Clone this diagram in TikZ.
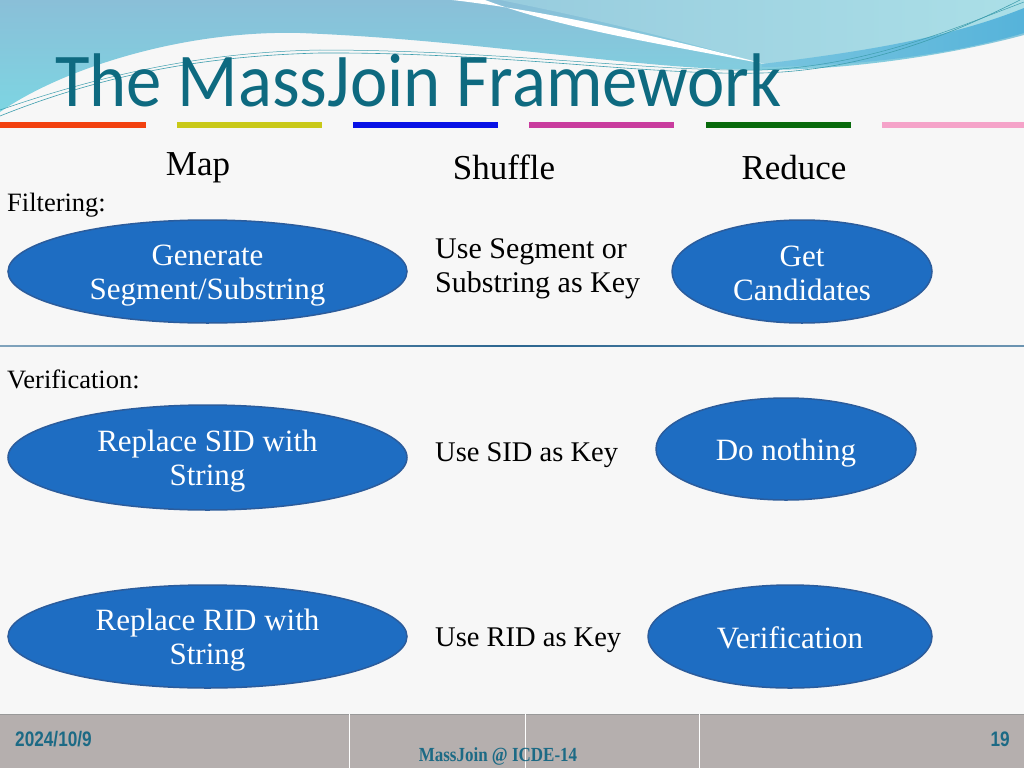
\documentclass[tikz,border=0pt]{standalone}
\usepackage{fontspec}
\setmainfont{Liberation Serif}
\newfontfamily\titlefont[FakeStretch=0.93]{Carlito}
\newfontfamily\footsans[FakeStretch=0.82]{Liberation Sans}
\newfontfamily\footserif[FakeStretch=0.85]{Liberation Serif}
\usetikzlibrary{shapes.geometric}
\definecolor{bg}{HTML}{F7F7F7}
\definecolor{titlecol}{HTML}{0E6A80}
\definecolor{ellfill}{HTML}{1E6DC2}
\definecolor{elldraw}{HTML}{2B5C9C}
\definecolor{footcol}{HTML}{B5AFAE}
\definecolor{foottext}{HTML}{1C6A85}
\definecolor{bannerA}{HTML}{8ABFD8}
\definecolor{bannerB}{HTML}{7DD5E2}
\definecolor{bannerC}{HTML}{ABDFE7}
\definecolor{swoosh}{HTML}{56B3DA}
\definecolor{thinline}{HTML}{3E9EAE}
\definecolor{sepline}{HTML}{2C6690}
\definecolor{barA}{HTML}{F2410F}
\definecolor{barB}{HTML}{C9C918}
\definecolor{barC}{HTML}{0812E6}
\definecolor{barD}{HTML}{C93C9E}
\definecolor{barE}{HTML}{086A0C}
\definecolor{barF}{HTML}{F5A3C9}
\tikzset{
  ell/.style={ellipse, draw=elldraw, line width=1.5pt, fill=ellfill, inner sep=0pt},
  elltext/.style={text=white, inner sep=0pt, align=center, font=\fontsize{31}{34}\selectfont},
  head/.style={anchor=base, inner sep=0pt, font=\fontsize{35}{40}\selectfont},
  label/.style={anchor=base west, inner sep=0pt, font=\fontsize{26.5}{30}\selectfont},
  shuf/.style={anchor=west, inner sep=0pt, align=left, font=\fontsize{28.5}{34}\selectfont},
  colbar/.style={minimum height=6pt, inner sep=0pt, anchor=north west},
}
\begin{document}
\begin{tikzpicture}[x=1pt,y=-1pt]
\useasboundingbox (0,0) rectangle (1024,768);
\fill[bg] (0,0) rectangle (1024,768);
% banner
\shade[top color=bannerA, bottom color=bannerB]
  (0,0) -- (1024,0) -- (1024,35) .. controls (950,55) and (850,70) .. (762,70)
  .. controls (640,70) and (480,40) .. (300,33) .. controls (180,30) and (60,70) .. (0,112) -- cycle;
\shade[left color=bannerA!60!bannerC, right color=bannerC]
  (500,0) -- (1024,0) -- (1024,12) .. controls (930,40) and (850,62) .. (762,64)
  .. controls (680,40) and (600,20) .. (500,0) -- cycle;
\fill[white] (452,0) .. controls (540,10) and (650,34) .. (765,64)
  .. controls (650,42) and (560,28) .. (485,0) -- cycle;
\shade[left color=swoosh!60!bannerC, right color=swoosh]
  (762,64) .. controls (860,52) and (950,38) .. (1024,8) -- (1024,33)
  .. controls (950,55) and (860,66) .. (762,67) -- cycle;
\draw[thinline, line width=0.6pt] (0,116) .. controls (100,76) and (200,56) .. (320,53)
  .. controls (500,52) and (650,76) .. (762,73) .. controls (870,70) and (960,30) .. (1020,0);
\draw[thinline, line width=0.5pt] (0,110) .. controls (110,72) and (210,52) .. (320,50)
  .. controls (500,50) and (650,72) .. (762,70) .. controls (870,66) and (960,26) .. (1024,2);
% title
\node[anchor=base west, inner sep=0pt, text=titlecol, font=\titlefont\fontsize{76}{80}\selectfont]
  (title) at (55,106) {The MassJoin Framework};
% colour bars
\node[colbar, fill=barA, minimum width=146pt] (b1) at (0,122) {};
\node[colbar, fill=barB, minimum width=145pt] (b2) at (177,122) {};
\node[colbar, fill=barC, minimum width=145pt] (b3) at (353,122) {};
\node[colbar, fill=barD, minimum width=145pt] (b4) at (529,122) {};
\node[colbar, fill=barE, minimum width=145pt] (b5) at (706,122) {};
\node[colbar, fill=barF, minimum width=142pt] (b6) at (882,122) {};
% headings
\node[head] (map) at (198,175) {Map};
\node[head] (shuffle) at (504,179) {Shuffle};
\node[head] (reduce) at (794,179) {Reduce};
\node[label] (filt) at (7,211) {Filtering:};
\node[label] (verif) at (7,388) {Verification:};
% separator
\shade[left color=sepline!60!white, right color=sepline!70!white, middle color=sepline]
  (0,345.3) rectangle (1024,346.8);
% filtering row
\node[ell, minimum width=399pt, minimum height=103pt] (gen) at (207.5,271.5) {};
\node[elltext] (gent) at ([yshift=-4pt]gen.center) {Generate\\Segment/Substring};
\node[shuf, font=\fontsize{30}{34}\selectfont] (usekey) at (435,269) {Use Segment or\\Substring as Key};
\node[ell, minimum width=260pt, minimum height=103pt] (cand) at (802,271.5) {};
\node[elltext] (candt) at ([yshift=-2pt]cand.center) {Get\\Candidates};
% verification rows
\node[ell, minimum width=399pt, minimum height=105pt] (sid) at (207.5,457.5) {};
\node[elltext] (sidt) at ([yshift=-4pt]sid.center) {Replace SID with\\String};
\node[shuf] (usesid) at (435,455) {Use SID as Key};
\node[ell, minimum width=260pt, minimum height=102pt] (nothing) at (786,449) {};
\node[elltext] (nothingt) at ([yshift=-4pt]nothing.center) {Do nothing};
\node[ell, minimum width=399pt, minimum height=103pt] (rid) at (207.5,636.5) {};
\node[elltext] (ridt) at ([yshift=-4pt]rid.center) {Replace RID with\\String};
\node[shuf] (userid) at (435,640) {Use RID as Key};
\node[ell, minimum width=284pt, minimum height=103pt] (ver) at (790,636.5) {};
\node[elltext] (vert) at ([yshift=-1pt]ver.center) {Verification};
% footer
\fill[footcol] (0,714) rectangle (1024,768);
\draw[gray!80, line width=1pt] (0,714) -- (1024,714);
\draw[white, line width=1pt] (349,714) -- (349,768) (525,714) -- (525,768) (699,714) -- (699,768);
\node[anchor=base west, inner sep=0pt, text=foottext, font=\footsans\bfseries\fontsize{21}{24}\selectfont]
  (date) at (15,746) {2024/10/9};
\node[anchor=base east, inner sep=0pt, text=foottext, font=\footsans\bfseries\fontsize{21}{24}\selectfont]
  (page) at (1010,746) {19};
\node[anchor=base, inner sep=0pt, text=foottext, font=\footserif\bfseries\fontsize{20}{22}\selectfont]
  (foot) at (498,761) {MassJoin @ ICDE-14};
\end{tikzpicture}
\end{document}
